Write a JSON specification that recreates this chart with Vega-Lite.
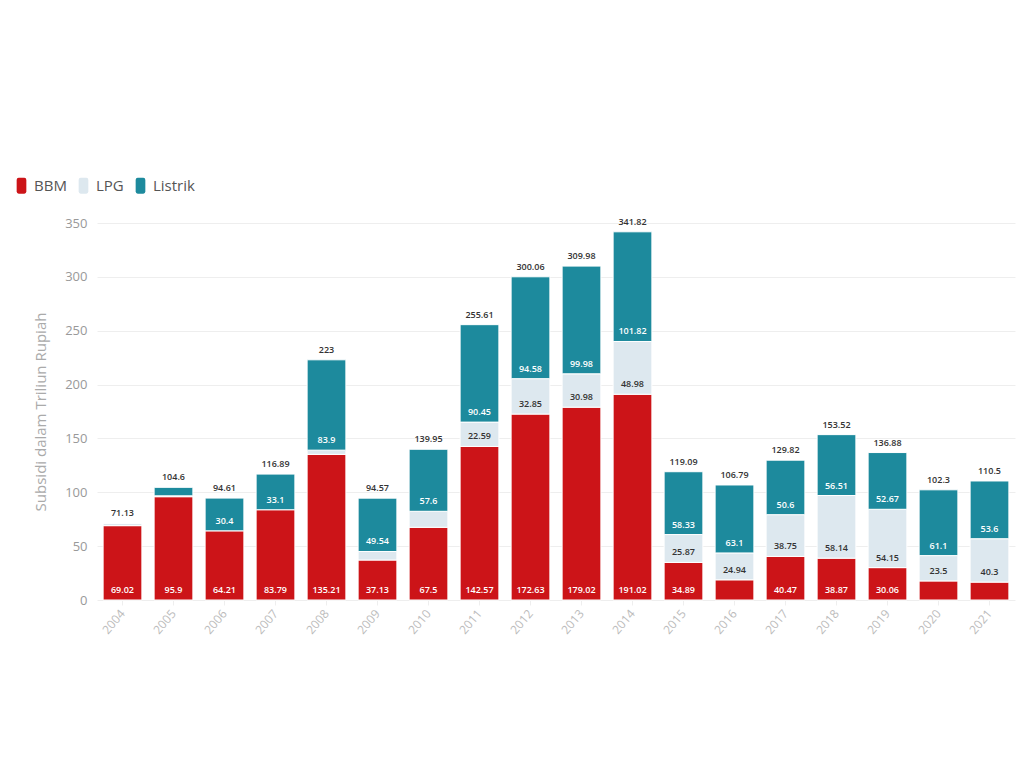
{
  "$schema": "https://vega.github.io/schema/vega-lite/v6.json",
  "width": 918,
  "height": 377,
  "autosize": "none",
  "padding": {"left": 97, "top": 223, "right": 9, "bottom": 168},
  "background": "white",
  "config": {"font": "Open Sans", "view": {"stroke": null}},
  "datasets": {
    "seg": [
      {"year": "2004", "type": "BBM", "ord": 1, "value": 69.02, "label": "69.02"},
      {"year": "2004", "type": "LPG", "ord": 2, "value": 2.11, "label": ""},
      {"year": "2005", "type": "BBM", "ord": 1, "value": 95.9, "label": "95.9"},
      {"year": "2005", "type": "LPG", "ord": 2, "value": 0.8, "label": ""},
      {"year": "2005", "type": "Listrik", "ord": 3, "value": 7.9, "label": ""},
      {"year": "2006", "type": "BBM", "ord": 1, "value": 64.21, "label": "64.21"},
      {"year": "2006", "type": "Listrik", "ord": 3, "value": 30.4, "label": "30.4"},
      {"year": "2007", "type": "BBM", "ord": 1, "value": 83.79, "label": "83.79"},
      {"year": "2007", "type": "Listrik", "ord": 3, "value": 33.1, "label": "33.1"},
      {"year": "2008", "type": "BBM", "ord": 1, "value": 135.21, "label": "135.21"},
      {"year": "2008", "type": "LPG", "ord": 2, "value": 3.89, "label": ""},
      {"year": "2008", "type": "Listrik", "ord": 3, "value": 83.9, "label": "83.9"},
      {"year": "2009", "type": "BBM", "ord": 1, "value": 37.13, "label": "37.13"},
      {"year": "2009", "type": "LPG", "ord": 2, "value": 7.9, "label": ""},
      {"year": "2009", "type": "Listrik", "ord": 3, "value": 49.54, "label": "49.54"},
      {"year": "2010", "type": "BBM", "ord": 1, "value": 67.5, "label": "67.5"},
      {"year": "2010", "type": "LPG", "ord": 2, "value": 14.85, "label": ""},
      {"year": "2010", "type": "Listrik", "ord": 3, "value": 57.6, "label": "57.6"},
      {"year": "2011", "type": "BBM", "ord": 1, "value": 142.57, "label": "142.57"},
      {"year": "2011", "type": "LPG", "ord": 2, "value": 22.59, "label": "22.59"},
      {"year": "2011", "type": "Listrik", "ord": 3, "value": 90.45, "label": "90.45"},
      {"year": "2012", "type": "BBM", "ord": 1, "value": 172.63, "label": "172.63"},
      {"year": "2012", "type": "LPG", "ord": 2, "value": 32.85, "label": "32.85"},
      {"year": "2012", "type": "Listrik", "ord": 3, "value": 94.58, "label": "94.58"},
      {"year": "2013", "type": "BBM", "ord": 1, "value": 179.02, "label": "179.02"},
      {"year": "2013", "type": "LPG", "ord": 2, "value": 30.98, "label": "30.98"},
      {"year": "2013", "type": "Listrik", "ord": 3, "value": 99.98, "label": "99.98"},
      {"year": "2014", "type": "BBM", "ord": 1, "value": 191.02, "label": "191.02"},
      {"year": "2014", "type": "LPG", "ord": 2, "value": 48.98, "label": "48.98"},
      {"year": "2014", "type": "Listrik", "ord": 3, "value": 101.82, "label": "101.82"},
      {"year": "2015", "type": "BBM", "ord": 1, "value": 34.89, "label": "34.89"},
      {"year": "2015", "type": "LPG", "ord": 2, "value": 25.87, "label": "25.87"},
      {"year": "2015", "type": "Listrik", "ord": 3, "value": 58.33, "label": "58.33"},
      {"year": "2016", "type": "BBM", "ord": 1, "value": 18.75, "label": ""},
      {"year": "2016", "type": "LPG", "ord": 2, "value": 24.94, "label": "24.94"},
      {"year": "2016", "type": "Listrik", "ord": 3, "value": 63.1, "label": "63.1"},
      {"year": "2017", "type": "BBM", "ord": 1, "value": 40.47, "label": "40.47"},
      {"year": "2017", "type": "LPG", "ord": 2, "value": 38.75, "label": "38.75"},
      {"year": "2017", "type": "Listrik", "ord": 3, "value": 50.6, "label": "50.6"},
      {"year": "2018", "type": "BBM", "ord": 1, "value": 38.87, "label": "38.87"},
      {"year": "2018", "type": "LPG", "ord": 2, "value": 58.14, "label": "58.14"},
      {"year": "2018", "type": "Listrik", "ord": 3, "value": 56.51, "label": "56.51"},
      {"year": "2019", "type": "BBM", "ord": 1, "value": 30.06, "label": "30.06"},
      {"year": "2019", "type": "LPG", "ord": 2, "value": 54.15, "label": "54.15"},
      {"year": "2019", "type": "Listrik", "ord": 3, "value": 52.67, "label": "52.67"},
      {"year": "2020", "type": "BBM", "ord": 1, "value": 17.7, "label": ""},
      {"year": "2020", "type": "LPG", "ord": 2, "value": 23.5, "label": "23.5"},
      {"year": "2020", "type": "Listrik", "ord": 3, "value": 61.1, "label": "61.1"},
      {"year": "2021", "type": "BBM", "ord": 1, "value": 16.6, "label": ""},
      {"year": "2021", "type": "LPG", "ord": 2, "value": 40.3, "label": "40.3"},
      {"year": "2021", "type": "Listrik", "ord": 3, "value": 53.6, "label": "53.6"}
    ],
    "tot": [
      {"year": "2004", "total": 71.13},
      {"year": "2005", "total": 104.6},
      {"year": "2006", "total": 94.61},
      {"year": "2007", "total": 116.89},
      {"year": "2008", "total": 223},
      {"year": "2009", "total": 94.57},
      {"year": "2010", "total": 139.95},
      {"year": "2011", "total": 255.61},
      {"year": "2012", "total": 300.06},
      {"year": "2013", "total": 309.98},
      {"year": "2014", "total": 341.82},
      {"year": "2015", "total": 119.09},
      {"year": "2016", "total": 106.79},
      {"year": "2017", "total": 129.82},
      {"year": "2018", "total": 153.52},
      {"year": "2019", "total": 136.88},
      {"year": "2020", "total": 102.3},
      {"year": "2021", "total": 110.5}
    ]
  },
  "layer": [
    {
      "data": {"name": "seg"},
      "mark": {"type": "bar", "stroke": "white", "strokeWidth": 1},
      "encoding": {
        "x": {
          "field": "year", "type": "ordinal",
          "scale": {"paddingInner": 0.24, "paddingOuter": 0.12},
          "axis": {"title": null, "labelAngle": -50, "labelColor": "#bbbbbb", "labelFontSize": 12, "labelPadding": 6, "domain": false, "ticks": true, "tickColor": "#eeeeee", "tickSize": 5}
        },
        "y": {
          "field": "value", "type": "quantitative", "stack": "zero",
          "scale": {"domain": [0, 350]},
          "axis": {"title": "Subsidi dalam Triliun Rupiah", "titleColor": "#aaaaaa", "titleFontSize": 15, "titleFontWeight": "normal", "titlePadding": 16, "values": [0, 50, 100, 150, 200, 250, 300, 350], "gridColor": "#eeeeee", "domain": false, "ticks": false, "labelColor": "#999999", "labelFontSize": 13, "labelPadding": 10}
        },
        "color": {
          "field": "type", "type": "nominal",
          "scale": {"domain": ["BBM", "LPG", "Listrik"], "range": ["#cc1418", "#dde8ef", "#1d8a9d"]},
          "legend": {"title": null, "orient": "none", "legendX": -84, "legendY": -46, "direction": "horizontal", "labelFontSize": 15, "labelColor": "#555555", "symbolType": "M-0.35,-1 H0.35 Q0.6,-1 0.6,-0.7 V0.7 Q0.6,1 0.35,1 H-0.35 Q-0.6,1 -0.6,0.7 V-0.7 Q-0.6,-1 -0.35,-1 Z", "symbolSize": 260, "symbolStrokeWidth": 0, "columnPadding": 8, "labelOffset": 4}
        },
        "order": {"field": "ord", "type": "quantitative"}
      }
    },
    {
      "data": {"name": "seg"},
      "transform": [
        {"stack": "value", "groupby": ["year"], "sort": [{"field": "ord"}], "as": ["y0", "y1"]},
        {"filter": "datum.label != ''"}
      ],
      "mark": {"type": "text", "baseline": "middle", "dy": -10, "fontSize": 9, "fontWeight": 600},
      "encoding": {
        "x": {"field": "year", "type": "ordinal"},
        "y": {"field": "y0", "type": "quantitative"},
        "text": {"field": "label"},
        "color": {"condition": {"test": "datum.type == 'LPG'", "value": "#333333"}, "value": "white"}
      }
    },
    {
      "data": {"name": "tot"},
      "mark": {"type": "text", "baseline": "middle", "dy": -10, "fontSize": 9, "fontWeight": 600, "color": "#333333"},
      "encoding": {
        "x": {"field": "year", "type": "ordinal"},
        "y": {"field": "total", "type": "quantitative"},
        "text": {"field": "total", "type": "quantitative", "format": ".2~f"}
      }
    }
  ]
}
